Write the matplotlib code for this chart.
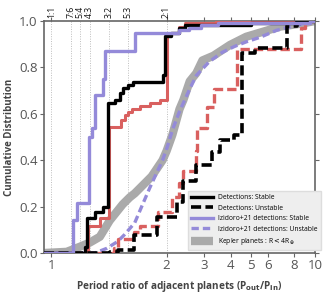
import numpy as np
import matplotlib
matplotlib.use("Agg")
import matplotlib.pyplot as plt
from matplotlib.ticker import NullLocator, FixedLocator
import matplotlib.transforms as mtransforms

plt.rcParams['font.family'] = ['Open Sans', 'DejaVu Sans']
plt.rcParams['mathtext.fontset'] = 'dejavusans'

# ---------------- data ----------------
XMIN, XMAX = 0.935, 10.0

# Detections: Stable (black solid, step CDF)
det_stable_x = [XMIN, 1.29, 1.31, 1.377, 1.449, 1.49, 1.55, 1.593, 1.622, 1.665, 1.708, 1.968, 1.985, 2.1, 2.3, 2.45, 5.0, 8.5, XMAX]
det_stable_y = [0.0, 0.027, 0.15, 0.178, 0.20, 0.648, 0.66, 0.69, 0.71, 0.724, 0.735, 0.767, 0.935, 0.95, 0.97, 0.983, 0.99, 1.0, 1.0]

# Detections: Unstable (black dashed)
det_unstable_x = [XMIN, 1.506, 1.576, 1.72, 1.913, 2.25, 2.4, 2.74, 3.26, 3.55, 4.17, 4.55, 5.2, 7.39, 8.2, XMAX]
det_unstable_y = [0.0, 0.005, 0.013, 0.078, 0.155, 0.22, 0.31, 0.38, 0.435, 0.487, 0.51, 0.86, 0.882, 0.98, 1.0, 1.0]

# Second sample, stable (red solid)
red_stable_x = [XMIN, 1.313, 1.42, 1.498, 1.608, 1.636, 1.665, 1.70, 1.77, 1.86, 1.94, 2.005, 2.1, 2.3, 2.45, 3.4, XMAX]
red_stable_y = [0.0, 0.115, 0.15, 0.545, 0.573, 0.595, 0.609, 0.62, 0.632, 0.645, 0.66, 0.94, 0.95, 0.975, 0.99, 1.0, 1.0]

# Second sample, unstable (red dashed)
red_unstable_x = [XMIN, 1.54, 1.576, 1.714, 1.766, 1.922, 2.13, 2.3, 2.4, 2.74, 2.79, 3.09, 3.35, 4.3, 8.6, 9.0, XMAX]
red_unstable_y = [0.0, 0.02, 0.06, 0.092, 0.116, 0.178, 0.243, 0.30, 0.355, 0.44, 0.54, 0.63, 0.707, 0.88, 0.97, 1.0, 1.0]

# Izidoro+21 detections: Stable (purple solid)
izi_stable_x = [XMIN, 1.19, 1.22, 1.327, 1.348, 1.377, 1.449, 1.469, 1.723, 2.3, 2.55, 2.9, 3.5, 9.5, XMAX]
izi_stable_y = [0.0, 0.142, 0.214, 0.50, 0.54, 0.68, 0.75, 0.87, 0.95, 0.96, 0.97, 0.983, 0.99, 1.0, 1.0]

# Izidoro+21 detections: Unstable (purple dashed)
izi_unstable_x = [XMIN, 1.377, 1.48, 1.576, 1.636, 1.723, 1.792, 1.853, 1.913, 1.965, 2.02, 2.13, 2.3, 2.55, 2.76, 3.18, 3.66, 4.17, 4.74, 5.52, 6.6, 8.3, 9.9]
izi_unstable_y = [0.0, 0.0, 0.02, 0.05, 0.08, 0.13, 0.21, 0.28, 0.345, 0.40, 0.46, 0.53, 0.61, 0.70, 0.765, 0.825, 0.865, 0.89, 0.91, 0.93, 0.96, 0.983, 1.0]

# Kepler planets R < 4 R_earth (grey)
kep_x = [XMIN, 1.132, 1.247, 1.333, 1.42, 1.506, 1.619, 1.68, 1.723, 1.87, 1.965, 2.0, 2.13, 2.3, 2.4, 2.57, 2.76, 2.95, 3.32, 3.98, 4.74, 5.7, 6.86, 8.8, 10.0]
kep_y = [0.0, 0.005, 0.027, 0.045, 0.07, 0.14, 0.21, 0.24, 0.257, 0.33, 0.40, 0.44, 0.51, 0.62, 0.66, 0.74, 0.775, 0.83, 0.85, 0.897, 0.932, 0.954, 0.976, 0.99, 1.0]

ratio_vals = [1.0, 7/6, 5/4, 4/3, 3/2, 5/3, 2.0]
ratio_labels = ['1:1', '7:6', '5:4', '4:3', '3:2', '5:3', '2:1']

xticks = [1, 2, 3, 4, 5, 6, 8, 10]
xticklabels = ['1', '2', '3', '4', '5', '6', '8', '10']
yticks = [0.0, 0.2, 0.4, 0.6, 0.8, 1.0]

# ---------------- scale: linear for 1-2, log above 2 ----------------
LIN = 115.5
DEC = 213.0


def fwd(x):
    x = np.asarray(x, dtype=float)
    xs = np.maximum(x, 1e-9)
    return np.where(x <= 2, (x - 1) * LIN, LIN + DEC * np.log10(xs / 2))


def inv(t):
    t = np.asarray(t, dtype=float)
    tt = np.clip(t, -1e4, 1e4)
    return np.where(tt <= LIN, 1 + tt / LIN, 2 * 10 ** ((tt - LIN) / DEC))


# ---------------- figure ----------------
fig = plt.figure(figsize=(3.28, 2.95), dpi=100, facecolor='white')
ax = fig.add_axes([44/328, 1 - 253/295, (315-44)/328, (253-21)/295])
ax.set_xscale('function', functions=(fwd, inv))

BLACK = '#000000'
RED = '#d9605f'
PURPLE = '#948ad9'
GREY = '#aaaaaa'

for r in ratio_vals:
    ax.axvline(r, color='#bdbdbd', ls=(0, (1, 1.5)), lw=0.7, zorder=0)

ax.plot(kep_x, kep_y, color=GREY, lw=6, solid_capstyle='butt', zorder=1,
        label=r'Kepler planets : R$<$4R$_\oplus$')
ax.plot(izi_unstable_x, izi_unstable_y, color=PURPLE, lw=2.4, ls=(0, (2.2, 1.2)), zorder=2,
        label='Izidoro+21 detections: Unstable')
ax.plot(red_unstable_x, red_unstable_y, color=RED, lw=2.4, ls=(0, (2.8, 1.2)),
        drawstyle='steps-post', zorder=3)
ax.plot(red_stable_x, red_stable_y, color=RED, lw=2.2, drawstyle='steps-post', zorder=3)
ax.plot(det_unstable_x, det_unstable_y, color=BLACK, lw=2.6, ls=(0, (2.8, 1.2)),
        drawstyle='steps-post', zorder=4, label='Detections: Unstable')
ax.plot(det_stable_x, det_stable_y, color=BLACK, lw=2.4, drawstyle='steps-post', zorder=5,
        label='Detections: Stable')
ax.plot(izi_stable_x, izi_stable_y, color=PURPLE, lw=2.4, drawstyle='steps-post', zorder=6,
        label='Izidoro+21 detections: Stable')

ax.set_xlim(XMIN, XMAX)
ax.set_ylim(0, 1.0)

ax.xaxis.set_major_locator(FixedLocator(xticks))
ax.set_xticklabels(xticklabels)
ax.xaxis.set_minor_locator(NullLocator())
ax.set_yticks(yticks)
ax.set_yticklabels(['%.1f' % v for v in yticks])

ax.tick_params(axis='both', which='both', direction='out', length=3, width=0.8,
               color='#666666', labelcolor='#555555', labelsize=9.5,
               top=True, right=True, pad=1.5)

for s in ax.spines.values():
    s.set_color('#666666')
    s.set_linewidth(1.2)

trans = mtransforms.blended_transform_factory(ax.transData, ax.transAxes)
for r, lab in zip(ratio_vals, ratio_labels):
    ax.text(r, 1.015, lab, transform=trans, rotation=90, ha='center', va='bottom',
            fontsize=6.3, color='#111111')

ax.set_xlabel(r'Period ratio of adjacent planets (P$_{\mathbf{out}}$/P$_{\mathbf{in}}$)',
              fontsize=7.2, fontweight='bold', color='#444444', labelpad=5)
ax.set_ylabel('Cumulative Distribution', fontsize=7.0, fontweight='bold', color='#444444',
              labelpad=3)

h, l = ax.get_legend_handles_labels()
order = ['Detections: Stable', 'Detections: Unstable', 'Izidoro+21 detections: Stable',
         'Izidoro+21 detections: Unstable', r'Kepler planets : R$<$4R$_\oplus$']
hh = [h[l.index(o)] for o in order]
leg = ax.legend(hh, order, loc='lower right', bbox_to_anchor=(1.022, 0.013),
                borderaxespad=0, fontsize=4.9, frameon=True, fancybox=False,
                facecolor='#eeeeee', edgecolor='#dddddd', framealpha=1,
                handlelength=3.2, handletextpad=0.8, labelspacing=0.5, borderpad=0.45)
leg.set_zorder(10)

fig.savefig('out.png', dpi=100, facecolor='white')
